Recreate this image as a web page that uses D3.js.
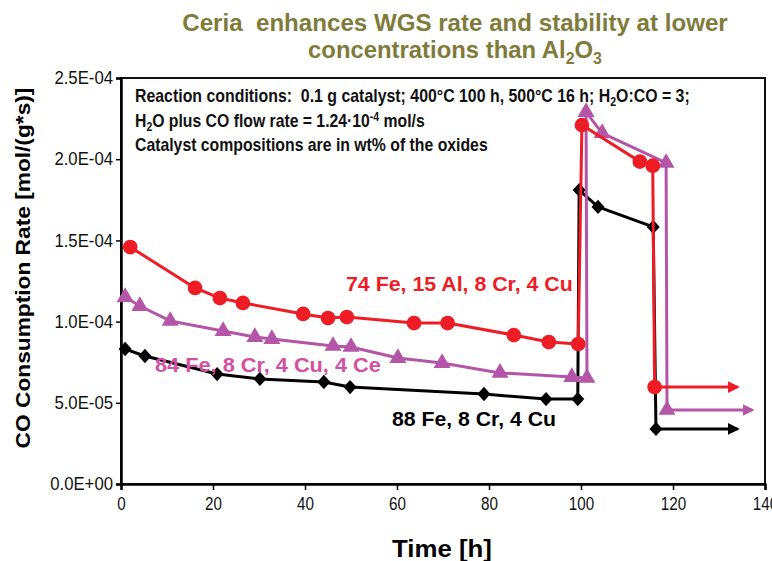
<!DOCTYPE html>
<html>
<head>
<meta charset="utf-8">
<script src="https://cdn.jsdelivr.net/npm/d3@7"></script>
<style>
body { margin: 0; background: #fff; }
text { font-family: "Liberation Sans", Arial, sans-serif; }
</style>
</head>
<body>
<svg id="chart" width="772" height="561"></svg>
<script>
// values; rates in units of 1e-4 mol/(g*s)
var redTime  = [2, 16.1, 21.5, 26.5, 39.6, 45, 49.1, 63.7, 71, 85.4, 93, 99.4, 100.2, 112.8, 115.6, 116];
var redRate  = [1.459, 1.207, 1.145, 1.115, 1.047, 1.022, 1.028, 0.991, 0.991, 0.917, 0.874, 0.862, 2.21, 1.985, 1.96, 0.597];
var redArrowEnd = 134;

var purpleTime = [0.9, 4.1, 10.7, 22.2, 29.1, 32.8, 46.1, 50, 60.2, 69.8, 82.4, 98, 101.3, 101.1, 104.6, 118.5, 118.7];
var purpleRate = [1.151, 1.096, 1.004, 0.942, 0.905, 0.893, 0.85, 0.844, 0.776, 0.745, 0.684, 0.659, 0.653, 2.29, 2.161, 1.977, 0.456];
var purpleArrowEnd = 137.2;

var blackTime = [0.9, 5.2, 20.9, 30.2, 44.1, 49.8, 78.9, 92.4, 99.3, 99.6, 103.7, 115.7, 116.3];
var blackRate = [0.831, 0.788, 0.677, 0.647, 0.628, 0.597, 0.554, 0.523, 0.523, 1.81, 1.706, 1.583, 0.339];
var blackArrowEnd = 134;

var yTicks = [0, 0.5e-4, 1.0e-4, 1.5e-4, 2.0e-4, 2.5e-4];
var yTickLabels = ["0.0E+00", "5.0E-05", "1.0E-04", "1.5E-04", "2.0E-04", "2.5E-04"];
var xTicks = [0, 20, 40, 60, 80, 100, 120, 140];

var svg = d3.select("#chart");
var m = {left: 121, right: 765, top: 78, bottom: 484};

var x = d3.scaleLinear().domain([0, 140]).range([m.left, m.right]);
var y = d3.scaleLinear().domain([0, 2.5e-4]).range([m.bottom, m.top]);

// squeeze or stretch a text horizontally around (ax, ay) so it is `width` wide
function fit(sel, ax, ay, width) {
    let w = sel.node().getBBox().width;
    let s = width / w;
    sel.attr("transform", "translate(" + ax + "," + ay + ") scale(" + s + ",1) translate(" + (-ax) + "," + (-ay) + ")");
    return sel;
}

// title
var t1 = svg.append("text")
    .attr("x", 455).attr("y", 31)
    .attr("text-anchor", "middle").attr("fill", "#7f7b3b")
    .style("font-weight", "bold").style("font-size", "24px")
    .style("white-space", "pre")
    .text("Ceria  enhances WGS rate and stability at lower");
fit(t1, 455, 31, 546);
var t2 = svg.append("text")
    .attr("x", 455).attr("y", 58)
    .attr("text-anchor", "middle").attr("fill", "#7f7b3b")
    .style("font-weight", "bold").style("font-size", "24px")
    .text("concentrations than Al");
t2.append("tspan").attr("dy", 6).style("font-size", "16px").text("2");
t2.append("tspan").attr("dy", -6).text("O");
t2.append("tspan").attr("dy", 6).style("font-size", "16px").text("3");
fit(t2, 455, 58, 294);

// frame
svg.append("rect")
    .attr("x", m.left).attr("y", m.top)
    .attr("width", m.right - m.left).attr("height", m.bottom - m.top)
    .attr("fill", "none").attr("stroke", "#111").attr("stroke-width", 2);

// axes
var yAxis = d3.axisLeft(y).tickValues(yTicks)
    .tickFormat((d, i) => yTickLabels[i]).tickSize(5).tickPadding(3);
var gy = svg.append("g").attr("transform", "translate(" + m.left + ",0)").call(yAxis);
gy.select(".domain").attr("stroke-width", 2.5);
gy.selectAll(".tick line").attr("stroke-width", 1.5);
gy.selectAll("text").style("font-size", "18px").attr("fill", "#111")
    .attr("transform", "translate(-8,0) scale(0.93,1) translate(8,0)");

var xAxis = d3.axisBottom(x).tickValues(xTicks).tickSize(6).tickPadding(7);
var gx = svg.append("g").attr("transform", "translate(0," + m.bottom + ")").call(xAxis);
gx.select(".domain").attr("stroke-width", 2.5);
gx.selectAll(".tick line").attr("stroke-width", 1.5);
gx.selectAll("text").style("font-size", "19px").attr("fill", "#111")
    .attr("transform", "scale(0.8,1)");

// axis titles
var xt = svg.append("text")
    .attr("x", 442).attr("y", 557)
    .attr("text-anchor", "middle")
    .style("font-weight", "bold").style("font-size", "23px")
    .text("Time [h]");
fit(xt, 442, 557, 100);
var yt = svg.append("text")
    .attr("x", 0).attr("y", 0)
    .attr("text-anchor", "middle")
    .style("font-weight", "bold").style("font-size", "20px")
    .text("CO Consumption Rate [mol/(g*s)]");
var yw = yt.node().getBBox().width;
yt.attr("transform", "translate(30,268) rotate(-90) scale(" + (361 / yw) + ",1)");

// notes
var notes = svg.append("g").style("font-weight", "bold").style("font-size", "18px").attr("fill", "#111");
var n1 = notes.append("text").attr("x", 135).attr("y", 102).style("white-space", "pre")
    .text("Reaction conditions:  0.1 g catalyst; 400\u00b0C 100 h, 500\u00b0C 16 h; H");
n1.append("tspan").attr("dy", 4).style("font-size", "12px").text("2");
n1.append("tspan").attr("dy", -4).text("O:CO = 3;");
fit(n1, 135, 102, 555);
var n2 = notes.append("text").attr("x", 135).attr("y", 127).text("H");
n2.append("tspan").attr("dy", 4).style("font-size", "12px").text("2");
n2.append("tspan").attr("dy", -4).text("O plus CO flow rate = 1.24\u00b710");
n2.append("tspan").attr("dy", -6).style("font-size", "12px").text("-4");
n2.append("tspan").attr("dy", 6).text(" mol/s");
fit(n2, 135, 127, 290);
var n3 = notes.append("text").attr("x", 135).attr("y", 151).text("Catalyst compositions are in wt% of the oxides");
fit(n3, 135, 151, 353);

// arrow heads
function marker(id, color) {
    svg.append("defs").append("marker")
        .attr("id", id).attr("viewBox", "0 0 10 10")
        .attr("refX", 8).attr("refY", 5)
        .attr("markerWidth", 4).attr("markerHeight", 4)
        .attr("orient", "auto")
        .append("path").attr("d", "M0,0 L10,5 L0,10 Z").attr("fill", color);
}
marker("arrBlack", "#000");
marker("arrPurple", "#b455a8");
marker("arrRed", "#ee1c25");

var line = d3.line().x(d => x(d[0])).y(d => y(d[1]));

var diamond = {
    draw: function(ctx, size) {
        let r = Math.sqrt(size) / 2;
        ctx.moveTo(0, -r * 1.1); ctx.lineTo(r, 0); ctx.lineTo(0, r * 1.1); ctx.lineTo(-r, 0); ctx.closePath();
    }
};

function drawSeries(times, rates, arrowEnd, color, width, symbol, size, arrowId) {
    let pts = times.map((t, i) => [t, rates[i] * 1e-4]);
    let last = pts[pts.length - 1];
    let g = svg.append("g");
    g.append("path").datum(pts).attr("d", line)
        .attr("fill", "none").attr("stroke", color).attr("stroke-width", width)
        .attr("stroke-linejoin", "round");
    g.append("path").datum([last, [arrowEnd, last[1]]]).attr("d", line)
        .attr("fill", "none").attr("stroke", color).attr("stroke-width", width)
        .attr("marker-end", "url(#" + arrowId + ")");
    g.selectAll("path.pt").data(pts).enter().append("path")
        .attr("class", "pt")
        .attr("d", d3.symbol().type(symbol).size(size))
        .attr("transform", d => "translate(" + x(d[0]) + "," + y(d[1]) + ")")
        .attr("fill", color);
}

drawSeries(blackTime, blackRate, blackArrowEnd, "#000", 3, diamond, 170, "arrBlack");
drawSeries(purpleTime, purpleRate, purpleArrowEnd, "#b455a8", 3, d3.symbolTriangle, 125, "arrPurple");
drawSeries(redTime, redRate, redArrowEnd, "#ee1c25", 3, d3.symbolCircle, 170, "arrRed");

// series labels
function label(txt, lx, ly, color, width) {
    let s = svg.append("text")
        .attr("x", lx).attr("y", ly)
        .attr("fill", color).style("font-weight", "bold").style("font-size", "21px")
        .text(txt);
    fit(s, lx, ly, width);
}
label("74 Fe, 15 Al, 8 Cr, 4 Cu", 346, 291, "#ee1c25", 227);
label("84 Fe, 8 Cr, 4 Cu, 4 Ce", 155, 372, "#d44fa2", 226);
label("88 Fe, 8 Cr, 4 Cu", 392, 426, "#000", 164);
</script>
</body>
</html>
